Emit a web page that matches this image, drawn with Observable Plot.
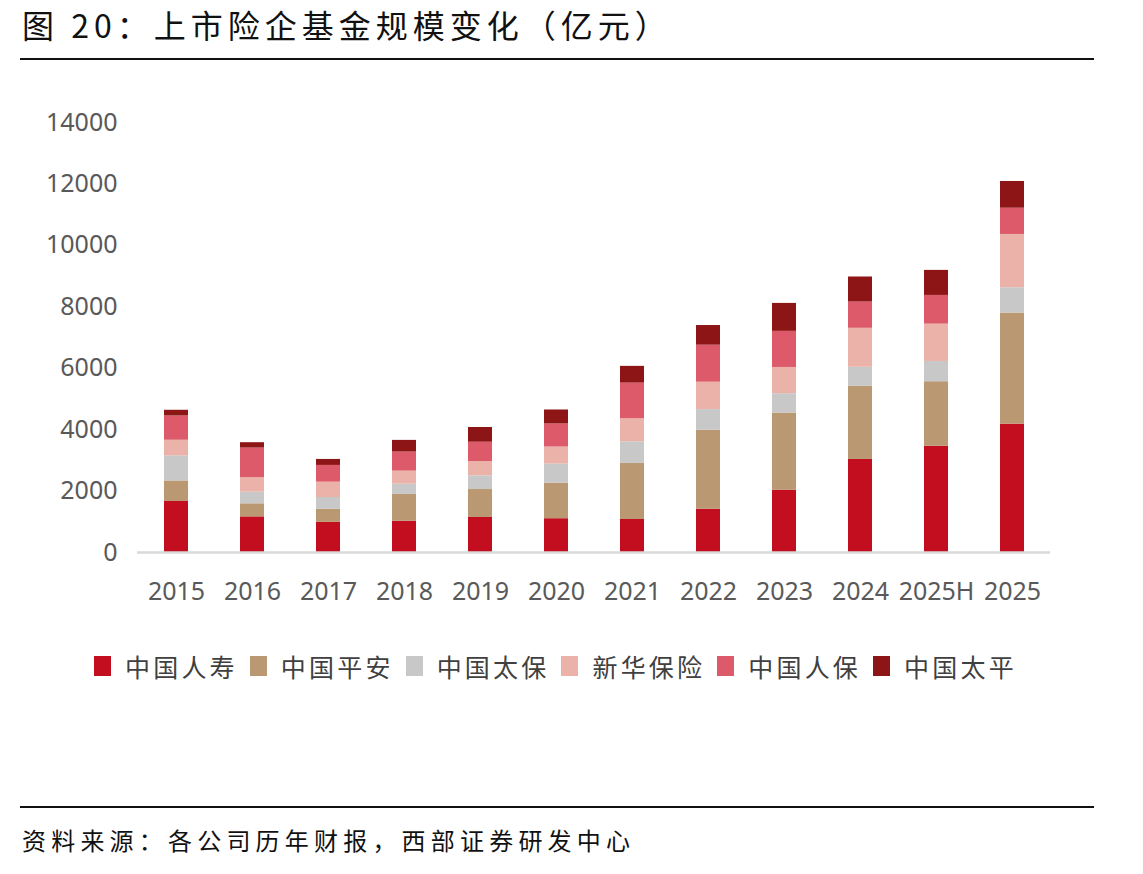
<!DOCTYPE html>
<html>
<head>
<meta charset="utf-8">
<script src="https://cdn.jsdelivr.net/npm/d3@7"></script>
<script src="https://cdn.jsdelivr.net/npm/@observablehq/plot@0.6"></script>
<style>
  html, body { margin: 0; padding: 0; background: #fff; }
  body { width: 1143px; height: 874px; position: relative; overflow: hidden; font-family: "Noto Sans CJK SC", sans-serif; }
  #title { position: absolute; left: 22px; top: 1px; font-size: 32px; letter-spacing: 5px; color: #111; white-space: nowrap; }
  .rule { position: absolute; left: 20px; width: 1074px; height: 2px; background: #111; }
  #chart { position: absolute; left: 0; top: 70px; }
  #legend { position: absolute; left: 94px; top: 648px; display: flex; align-items: center; white-space: nowrap; }
  .item { display: flex; align-items: center; margin-right: 12px; }
  .sw { width: 17px; height: 20px; margin-right: 14px; }
  .lab { font-size: 25px; letter-spacing: 3.2px; color: #404040; }
  #caption { position: absolute; left: 22px; top: 822px; font-size: 24px; letter-spacing: 5.2px; color: #111; white-space: nowrap; }
  #chart text { font-family: "Noto Sans", "Open Sans", sans-serif; }
</style>
</head>
<body>
<div id="title">图 20：上市险企基金规模变化（亿元）</div>
<div class="rule" style="top:58px"></div>
<div id="chart"></div>
<div id="legend"></div>
<div class="rule" style="top:806px"></div>
<div id="caption">资料来源：各公司历年财报，西部证券研发中心</div>
<script>
const years = ["2015","2016","2017","2018","2019","2020","2021","2022","2023","2024","2025H","2025"];
const companies = ["中国人寿","中国平安","中国太保","新华保险","中国人保","中国太平"];
const colors = ["#C20E1E","#B99872","#C8C8C8","#EAB2A8","#DC5A6A","#8E1516"];
const chinaLife = [1660, 1160, 980, 1020, 1140, 1100, 1075, 1410, 2030, 3030, 3460, 4180];
const pingAn    = [670, 425, 430, 870, 910, 1160, 1825, 2570, 2510, 2380, 2100, 3615];
const cpic      = [815, 380, 380, 335, 445, 620, 705, 675, 630, 620, 660, 825];
const nci       = [510, 470, 500, 425, 465, 555, 750, 890, 855, 1270, 1215, 1735];
const picc      = [790, 965, 545, 620, 630, 750, 1160, 1205, 1175, 855, 935, 855];
const taiping   = [185, 175, 195, 380, 480, 455, 545, 640, 910, 815, 815, 870];
const yTicks = [0, 2000, 4000, 6000, 8000, 10000, 12000, 14000];

const seriesValues = [chinaLife, pingAn, cpic, nci, picc, taiping];
const data = [];
companies.forEach((c, i) => {
  years.forEach((y, j) => data.push({year: y, company: c, value: seriesValues[i][j]}));
});

const chart = Plot.plot({
  width: 1143,
  height: 560,
  marginLeft: 137,
  marginRight: 93,
  marginTop: 52,
  marginBottom: 78,
  style: {fontSize: "25px", color: "#595959", background: "transparent"},
  x: {domain: years, paddingInner: 0.685, paddingOuter: 0.3425, label: null, tickSize: 0, tickPadding: 30},
  y: {domain: [0, 14000], ticks: yTicks, label: null, tickSize: 0, tickPadding: 20, tickFormat: d => String(d)},
  color: {domain: companies, range: colors},
  marks: [
    Plot.barY(data, {x: "year", y: "value", fill: "company", order: companies}),
    Plot.ruleY([0], {stroke: "#D9D9D9", strokeWidth: 2.5})
  ]
});
document.getElementById("chart").appendChild(chart);

const color = chart.scale("color");
const legend = document.getElementById("legend");
color.domain.forEach((c, i) => {
  const item = document.createElement("div");
  item.className = "item";
  const sw = document.createElement("div");
  sw.className = "sw";
  sw.style.background = color.range[i];
  const lab = document.createElement("span");
  lab.className = "lab";
  lab.textContent = c;
  item.appendChild(sw);
  item.appendChild(lab);
  legend.appendChild(item);
});
</script>
</body>
</html>
